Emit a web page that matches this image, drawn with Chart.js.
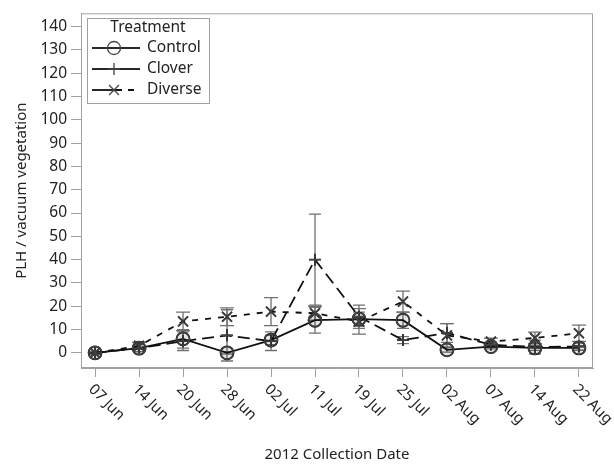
<!DOCTYPE html>
<html>
<head>
<meta charset="utf-8">
<script src="https://cdn.jsdelivr.net/npm/chart.js@4/dist/chart.umd.min.js"></script>
<style>
  html, body { margin: 0; padding: 0; background: #fff; }
  #Chart { display: block; }
</style>
</head>
<body>
<canvas id="Chart" width="614" height="464"></canvas>
<script>
// data
const dates = ['07 Jun', '14 Jun', '20 Jun', '28 Jun', '02 Jul', '11 Jul', '19 Jul', '25 Jul', '02 Aug', '07 Aug', '14 Aug', '22 Aug'];
const control = [0, 2, 6, 0, 5.5, 14, 14.5, 14, 1.3, 2.7, 2.1, 2.1];
const controlErr = [0.5, 1.5, 4, 0.5, 2, 5.5, 3, 3.5, 1, 1, 1, 1];
const clover = [0, 2, 5, 7.5, 5, 40, 15.5, 5.5, 8.5, 3.5, 2.5, 2.7];
const cloverErr = [0.5, 1.5, 4, 11, 4, 19.5, 5, 1.5, 4, 1, 3, 1.5];
const diverse = [0, 3, 13.5, 15.5, 17.7, 17, 13.5, 22, 7.5, 4.8, 6.4, 8.4];
const diverseErr = [0.5, 1.5, 4, 3.8, 6, 3, 5.5, 4.5, 5, 1.5, 2.5, 3.5];
const yTickValues = [0, 10, 20, 30, 40, 50, 60, 70, 80, 90, 100, 110, 120, 130, 140];

const FONT = '"Noto Sans", "Open Sans", sans-serif';

function points(vals) {
  return vals.map(function(v, i) { return { x: i, y: v }; });
}

function drawMarker(ctx, style, r, x, y) {
  ctx.beginPath();
  if (style === 'circle') {
    ctx.arc(x, y, r, 0, Math.PI * 2);
  } else if (style === 'cross') {
    ctx.moveTo(x, y - r); ctx.lineTo(x, y + r);
    ctx.moveTo(x - r, y); ctx.lineTo(x + r, y);
  } else {
    var d = r * 0.7071;
    ctx.moveTo(x - d, y - d); ctx.lineTo(x + d, y + d);
    ctx.moveTo(x + d, y - d); ctx.lineTo(x - d, y + d);
  }
  ctx.stroke();
}

// vertical error bars with caps
const errorBars = {
  id: 'errorBars',
  beforeDatasetsDraw(chart) {
    const ctx = chart.ctx, xs = chart.scales.x, ys = chart.scales.y, a = chart.chartArea;
    ctx.save();
    ctx.beginPath();
    ctx.rect(a.left, a.top, a.right - a.left, a.bottom - a.top);
    ctx.clip();
    ctx.strokeStyle = '#707070';
    ctx.lineWidth = 1.3;
    chart.data.datasets.forEach(function(ds) {
      ds.data.forEach(function(p, i) {
        const e = ds.err[i];
        const px = xs.getPixelForValue(p.x);
        const top = ys.getPixelForValue(p.y + e);
        const bot = ys.getPixelForValue(p.y - e);
        const w = ds.capWidth;
        ctx.beginPath();
        ctx.moveTo(px, top); ctx.lineTo(px, bot);
        ctx.moveTo(px - w, top); ctx.lineTo(px + w, top);
        ctx.moveTo(px - w, bot); ctx.lineTo(px + w, bot);
        ctx.stroke();
      });
    });
    ctx.restore();
  }
};

// frame, rotated date labels and the legend box
const decorations = {
  id: 'decorations',
  afterDraw(chart) {
    const ctx = chart.ctx, a = chart.chartArea, xs = chart.scales.x;
    ctx.save();
    ctx.strokeStyle = '#a0a0a0';
    ctx.lineWidth = 1;
    ctx.strokeRect(a.left + 0.5, a.top + 0.5, a.right - a.left - 1, a.bottom - a.top - 1);

    ctx.fillStyle = '#222';
    ctx.font = '15px ' + FONT;
    ctx.textAlign = 'left';
    ctx.textBaseline = 'middle';
    xs.ticks.forEach(function(t) {
      const px = xs.getPixelForValue(t.value);
      ctx.save();
      ctx.translate(px - 4, a.bottom + 19);
      ctx.rotate(Math.PI / 4);
      ctx.fillText(dates[t.value], 0, 0);
      ctx.restore();
    });

    // legend
    const lx = 87, ly = 18, lw = 122, lh = 85;
    ctx.strokeStyle = '#a0a0a0';
    ctx.lineWidth = 1;
    ctx.strokeRect(lx + 0.5, ly + 0.5, lw, lh);
    ctx.font = '15.5px ' + FONT;
    ctx.textAlign = 'center';
    ctx.fillText('Treatment', lx + lw / 2, ly + 10);
    ctx.textAlign = 'left';
    chart.data.datasets.forEach(function(ds, i) {
      const y = ly + 30 + i * 21;
      ctx.strokeStyle = '#111';
      ctx.lineWidth = 1.8;
      ctx.beginPath();
      ctx.moveTo(lx + 5, y); ctx.lineTo(lx + 29, y);
      ctx.stroke();
      ctx.setLineDash(ds.legendDash);
      ctx.beginPath();
      ctx.moveTo(lx + 29, y); ctx.lineTo(lx + 53, y);
      ctx.stroke();
      ctx.setLineDash([]);
      ctx.strokeStyle = '#444';
      ctx.lineWidth = 1.3;
      drawMarker(ctx, ds.pointStyle, ds.pointRadius, lx + 27, y);
      ctx.fillText(ds.label, lx + 60, y);
    });
    ctx.restore();
  }
};

const markers = {
  id: 'markers',
  afterDatasetsDraw(chart) {
    const ctx = chart.ctx, xs = chart.scales.x, ys = chart.scales.y;
    ctx.save();
    ctx.strokeStyle = '#444';
    ctx.lineWidth = 1.3;
    chart.data.datasets.forEach(function(ds) {
      ds.data.forEach(function(p) {
        drawMarker(ctx, ds.pointStyle, ds.pointRadius, xs.getPixelForValue(p.x), ys.getPixelForValue(p.y));
      });
    });
    ctx.restore();
  }
};

var ctx = document.getElementById('Chart').getContext('2d');
var chart = new Chart(ctx, {
  type: 'line',
  data: {
    datasets: [
      { label: 'Control', data: points(control), err: controlErr, capWidth: 6,
        borderColor: '#111', borderWidth: 1.8, borderDash: [], legendDash: [],
        pointStyle: 'circle', pointRadius: 6.5 },
      { label: 'Clover', data: points(clover), err: cloverErr, capWidth: 6,
        borderColor: '#111', borderWidth: 1.8, borderDash: [12, 6], legendDash: [],
        pointStyle: 'cross', pointRadius: 6 },
      { label: 'Diverse', data: points(diverse), err: diverseErr, capWidth: 7,
        borderColor: '#111', borderWidth: 1.8, borderDash: [6, 7], legendDash: [6, 6],
        pointStyle: 'crossRot', pointRadius: 7 }
    ]
  },
  options: {
    responsive: false,
    animation: false,
    layout: { padding: { top: 12, right: 21, left: 0, bottom: 0 } },
    elements: { point: { radius: 0, hoverRadius: 0 }, line: { tension: 0 } },
    plugins: { legend: { display: false }, tooltip: { enabled: false } },
    scales: {
      x: {
        type: 'linear',
        min: -0.32,
        max: 11.32,
        afterBuildTicks: function(scale) {
          scale.ticks = dates.map(function(d, i) { return { value: i }; });
        },
        afterFit: function(scale) { scale.height = 96; },
        ticks: { display: false, stepSize: 1 },
        grid: { drawOnChartArea: false, drawTicks: true, tickLength: 9, color: '#a0a0a0' },
        border: { color: '#a0a0a0' },
        title: { display: true, text: '2012 Collection Date', color: '#222',
                 font: { family: FONT, size: 15 }, padding: { top: 0, bottom: 0 } }
      },
      y: {
        min: -6.5,
        max: 145.7,
        afterBuildTicks: function(scale) {
          scale.ticks = yTickValues.map(function(v) { return { value: v }; });
        },
        afterFit: function(scale) { scale.width = 81; },
        ticks: { color: '#222', padding: 4, font: { family: FONT, size: 15.5 } },
        grid: { drawOnChartArea: false, drawTicks: true, tickLength: 10, color: '#a0a0a0' },
        border: { color: '#a0a0a0' },
        title: { display: true, text: 'PLH / vacuum vegetation', color: '#222',
                 font: { family: FONT, size: 15 }, padding: { top: 13, bottom: 0 } }
      }
    }
  },
  plugins: [errorBars, markers, decorations]
});
</script>
</body>
</html>
